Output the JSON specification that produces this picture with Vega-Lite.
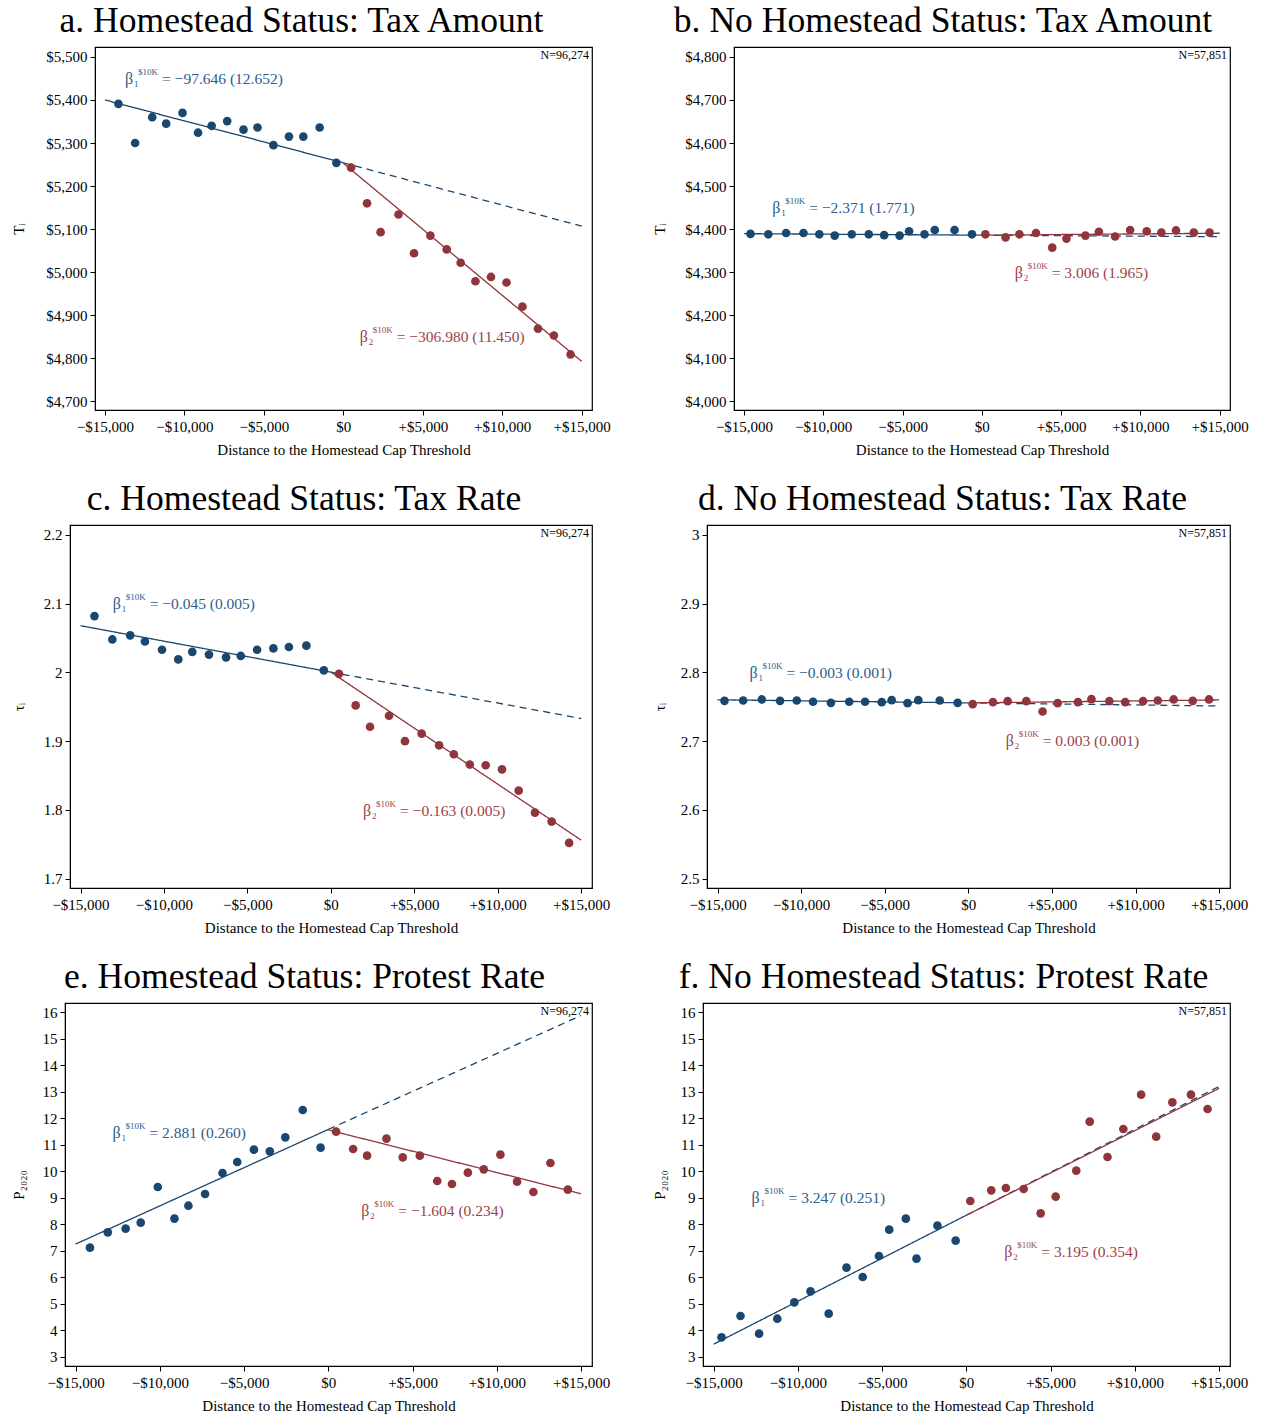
{
"$schema": "https://vega.github.io/schema/vega-lite/v6.json",
"padding": {"left": 0, "right": 0, "top": 3, "bottom": 0},
"background": "white",
"config": {
  "font": "Liberation Serif",
  "view": {"stroke": "black", "strokeWidth": 1.2},
  "title": {"font": "Liberation Serif", "fontSize": 35.6, "fontWeight": "normal", "color": "black", "anchor": "middle", "offset": 7},
  "axis": {"grid": false, "labelFont": "Liberation Serif", "labelFontSize": 15, "labelColor": "black", "titleFont": "Liberation Serif", "titleFontSize": 15, "titleFontWeight": "normal", "titleColor": "black", "tickColor": "black", "domainColor": "black", "tickSize": 5, "labelPadding": 3, "labelFlush": false, "labelOverlap": false},
  "axisX": {"titlePadding": 8, "labelPadding": 4},
  "axisY": {"titlePadding": 4}
},
"datasets": {
  "pts": [
    {"p":"a","s":"L","x":-14156,"y":5391},{"p":"a","s":"L","x":-13105,"y":5300},{"p":"a","s":"L","x":-12029,"y":5360},{"p":"a","s":"L","x":-11149,"y":5345},{"p":"a","s":"L","x":-10122,"y":5370},{"p":"a","s":"L","x":-9144,"y":5324},{"p":"a","s":"L","x":-8289,"y":5340},{"p":"a","s":"L","x":-7311,"y":5351},{"p":"a","s":"L","x":-6284,"y":5331},{"p":"a","s":"L","x":-5403,"y":5336},{"p":"a","s":"L","x":-4401,"y":5295},{"p":"a","s":"L","x":-3423,"y":5315},{"p":"a","s":"L","x":-2518,"y":5315},{"p":"a","s":"L","x":-1491,"y":5336},{"p":"a","s":"L","x":-440,"y":5254},
    {"p":"a","s":"R","x":489,"y":5243},{"p":"a","s":"R","x":1491,"y":5160},{"p":"a","s":"R","x":2347,"y":5093},{"p":"a","s":"R","x":3472,"y":5134},{"p":"a","s":"R","x":4450,"y":5044},{"p":"a","s":"R","x":5477,"y":5085},{"p":"a","s":"R","x":6504,"y":5053},{"p":"a","s":"R","x":7384,"y":5022},{"p":"a","s":"R","x":8313,"y":4979},{"p":"a","s":"R","x":9291,"y":4989},{"p":"a","s":"R","x":10269,"y":4976},{"p":"a","s":"R","x":11271,"y":4920},{"p":"a","s":"R","x":12249,"y":4869},{"p":"a","s":"R","x":13252,"y":4853},{"p":"a","s":"R","x":14303,"y":4809},
    {"p":"b","s":"L","x":-14589,"y":4389},{"p":"b","s":"L","x":-13466,"y":4388},{"p":"b","s":"L","x":-12344,"y":4391},{"p":"b","s":"L","x":-11247,"y":4391},{"p":"b","s":"L","x":-10249,"y":4388},{"p":"b","s":"L","x":-9277,"y":4385},{"p":"b","s":"L","x":-8204,"y":4388},{"p":"b","s":"L","x":-7132,"y":4388},{"p":"b","s":"L","x":-6160,"y":4386},{"p":"b","s":"L","x":-5187,"y":4385},{"p":"b","s":"L","x":-4589,"y":4395},{"p":"b","s":"L","x":-3616,"y":4388},{"p":"b","s":"L","x":-2968,"y":4398},{"p":"b","s":"L","x":-1721,"y":4398},{"p":"b","s":"L","x":-623,"y":4388},
    {"p":"b","s":"R","x":224,"y":4388},{"p":"b","s":"R","x":1496,"y":4381},{"p":"b","s":"R","x":2369,"y":4388},{"p":"b","s":"R","x":3416,"y":4391},{"p":"b","s":"R","x":4439,"y":4357},{"p":"b","s":"R","x":5337,"y":4378},{"p":"b","s":"R","x":6534,"y":4385},{"p":"b","s":"R","x":7382,"y":4394},{"p":"b","s":"R","x":8404,"y":4383},{"p":"b","s":"R","x":9352,"y":4398},{"p":"b","s":"R","x":10399,"y":4395},{"p":"b","s":"R","x":11322,"y":4392},{"p":"b","s":"R","x":12244,"y":4397},{"p":"b","s":"R","x":13367,"y":4392},{"p":"b","s":"R","x":14364,"y":4392},
    {"p":"c","s":"L","x":-14163,"y":2.082},{"p":"c","s":"L","x":-13093,"y":2.048},{"p":"c","s":"L","x":-12023,"y":2.054},{"p":"c","s":"L","x":-11140,"y":2.045},{"p":"c","s":"L","x":-10116,"y":2.033},{"p":"c","s":"L","x":-9140,"y":2.019},{"p":"c","s":"L","x":-8302,"y":2.030},{"p":"c","s":"L","x":-7302,"y":2.026},{"p":"c","s":"L","x":-6279,"y":2.022},{"p":"c","s":"L","x":-5395,"y":2.024},{"p":"c","s":"L","x":-4419,"y":2.033},{"p":"c","s":"L","x":-3442,"y":2.035},{"p":"c","s":"L","x":-2512,"y":2.037},{"p":"c","s":"L","x":-1465,"y":2.039},{"p":"c","s":"L","x":-419,"y":2.003},
    {"p":"c","s":"R","x":488,"y":1.998},{"p":"c","s":"R","x":1488,"y":1.952},{"p":"c","s":"R","x":2349,"y":1.921},{"p":"c","s":"R","x":3488,"y":1.937},{"p":"c","s":"R","x":4442,"y":1.900},{"p":"c","s":"R","x":5442,"y":1.911},{"p":"c","s":"R","x":6488,"y":1.894},{"p":"c","s":"R","x":7372,"y":1.881},{"p":"c","s":"R","x":8326,"y":1.866},{"p":"c","s":"R","x":9279,"y":1.865},{"p":"c","s":"R","x":10256,"y":1.859},{"p":"c","s":"R","x":11256,"y":1.828},{"p":"c","s":"R","x":12233,"y":1.796},{"p":"c","s":"R","x":13233,"y":1.783},{"p":"c","s":"R","x":14279,"y":1.752},
    {"p":"d","s":"L","x":-14584,"y":2.7587},{"p":"d","s":"L","x":-13468,"y":2.7592},{"p":"d","s":"L","x":-12352,"y":2.7607},{"p":"d","s":"L","x":-11259,"y":2.7587},{"p":"d","s":"L","x":-10261,"y":2.7592},{"p":"d","s":"L","x":-9287,"y":2.7573},{"p":"d","s":"L","x":-8219,"y":2.7558},{"p":"d","s":"L","x":-7126,"y":2.7573},{"p":"d","s":"L","x":-6176,"y":2.7573},{"p":"d","s":"L","x":-5178,"y":2.7568},{"p":"d","s":"L","x":-4584,"y":2.7597},{"p":"d","s":"L","x":-3634,"y":2.7553},{"p":"d","s":"L","x":-2993,"y":2.7597},{"p":"d","s":"L","x":-1710,"y":2.7592},{"p":"d","s":"L","x":-641,"y":2.7558},
    {"p":"d","s":"R","x":261,"y":2.7539},{"p":"d","s":"R","x":1473,"y":2.7568},{"p":"d","s":"R","x":2352,"y":2.7582},{"p":"d","s":"R","x":3468,"y":2.7582},{"p":"d","s":"R","x":4442,"y":2.7432},{"p":"d","s":"R","x":5344,"y":2.7553},{"p":"d","s":"R","x":6556,"y":2.7568},{"p":"d","s":"R","x":7363,"y":2.7611},{"p":"d","s":"R","x":8432,"y":2.7582},{"p":"d","s":"R","x":9382,"y":2.7568},{"p":"d","s":"R","x":10451,"y":2.7582},{"p":"d","s":"R","x":11330,"y":2.7592},{"p":"d","s":"R","x":12280,"y":2.7607},{"p":"d","s":"R","x":13420,"y":2.7587},{"p":"d","s":"R","x":14394,"y":2.7607},
    {"p":"e","s":"L","x":-14148,"y":7.115},{"p":"e","s":"L","x":-13090,"y":7.694},{"p":"e","s":"L","x":-12032,"y":7.832},{"p":"e","s":"L","x":-11135,"y":8.059},{"p":"e","s":"L","x":-10123,"y":9.405},{"p":"e","s":"L","x":-9134,"y":8.21},{"p":"e","s":"L","x":-8305,"y":8.70},{"p":"e","s":"L","x":-7316,"y":9.141},{"p":"e","s":"L","x":-6280,"y":9.934},{"p":"e","s":"L","x":-5406,"y":10.349},{"p":"e","s":"L","x":-4417,"y":10.815},{"p":"e","s":"L","x":-3474,"y":10.752},{"p":"e","s":"L","x":-2553,"y":11.281},{"p":"e","s":"L","x":-1518,"y":12.313},{"p":"e","s":"L","x":-460,"y":10.89},
    {"p":"e","s":"R","x":460,"y":11.495},{"p":"e","s":"R","x":1472,"y":10.84},{"p":"e","s":"R","x":2300,"y":10.59},{"p":"e","s":"R","x":3451,"y":11.23},{"p":"e","s":"R","x":4417,"y":10.526},{"p":"e","s":"R","x":5429,"y":10.59},{"p":"e","s":"R","x":6464,"y":9.632},{"p":"e","s":"R","x":7338,"y":9.519},{"p":"e","s":"R","x":8282,"y":9.947},{"p":"e","s":"R","x":9225,"y":10.072},{"p":"e","s":"R","x":10214,"y":10.626},{"p":"e","s":"R","x":11203,"y":9.607},{"p":"e","s":"R","x":12170,"y":9.217},{"p":"e","s":"R","x":13182,"y":10.312},{"p":"e","s":"R","x":14217,"y":9.305},
    {"p":"f","s":"L","x":-14531,"y":3.73},{"p":"f","s":"L","x":-13404,"y":4.535},{"p":"f","s":"L","x":-12300,"y":3.868},{"p":"f","s":"L","x":-11221,"y":4.434},{"p":"f","s":"L","x":-10211,"y":5.051},{"p":"f","s":"L","x":-9249,"y":5.466},{"p":"f","s":"L","x":-8169,"y":4.623},{"p":"f","s":"L","x":-7113,"y":6.36},{"p":"f","s":"L","x":-6150,"y":6.007},{"p":"f","s":"L","x":-5188,"y":6.8},{"p":"f","s":"L","x":-4577,"y":7.795},{"p":"f","s":"L","x":-3592,"y":8.21},{"p":"f","s":"L","x":-2958,"y":6.70},{"p":"f","s":"L","x":-1714,"y":7.946},{"p":"f","s":"L","x":-634,"y":7.379},
    {"p":"f","s":"R","x":235,"y":8.877},{"p":"f","s":"R","x":1479,"y":9.28},{"p":"f","s":"R","x":2347,"y":9.368},{"p":"f","s":"R","x":3404,"y":9.33},{"p":"f","s":"R","x":4413,"y":8.411},{"p":"f","s":"R","x":5305,"y":9.041},{"p":"f","s":"R","x":6526,"y":10.022},{"p":"f","s":"R","x":7324,"y":11.872},{"p":"f","s":"R","x":8380,"y":10.538},{"p":"f","s":"R","x":9319,"y":11.595},{"p":"f","s":"R","x":10376,"y":12.892},{"p":"f","s":"R","x":11268,"y":11.306},{"p":"f","s":"R","x":12230,"y":12.602},{"p":"f","s":"R","x":13333,"y":12.892},{"p":"f","s":"R","x":14319,"y":12.35}
  ],
  "fits": [
    {"p":"a","s":"L","st":"dash","x":0,"y":5254},{"p":"a","s":"L","st":"dash","x":15000,"y":5107},
    {"p":"a","s":"L","st":"solid","x":-15000,"y":5400},{"p":"a","s":"L","st":"solid","x":0,"y":5254},
    {"p":"a","s":"R","st":"solid","x":0,"y":5253},{"p":"a","s":"R","st":"solid","x":15000,"y":4793},
    {"p":"b","s":"L","st":"dash","x":0,"y":4386},{"p":"b","s":"L","st":"dash","x":15000,"y":4382.5},
    {"p":"b","s":"L","st":"solid","x":-15000,"y":4389.5},{"p":"b","s":"L","st":"solid","x":0,"y":4386},
    {"p":"b","s":"R","st":"solid","x":0,"y":4386},{"p":"b","s":"R","st":"solid","x":15000,"y":4390.5},
    {"p":"c","s":"L","st":"dash","x":0,"y":2.0005},{"p":"c","s":"L","st":"dash","x":15000,"y":1.933},
    {"p":"c","s":"L","st":"solid","x":-15000,"y":2.068},{"p":"c","s":"L","st":"solid","x":0,"y":2.0005},
    {"p":"c","s":"R","st":"solid","x":0,"y":2.0005},{"p":"c","s":"R","st":"solid","x":15000,"y":1.756},
    {"p":"d","s":"L","st":"dash","x":0,"y":2.7557},{"p":"d","s":"L","st":"dash","x":15000,"y":2.7512},
    {"p":"d","s":"L","st":"solid","x":-15000,"y":2.7602},{"p":"d","s":"L","st":"solid","x":0,"y":2.7557},
    {"p":"d","s":"R","st":"solid","x":0,"y":2.7557},{"p":"d","s":"R","st":"solid","x":15000,"y":2.7600},
    {"p":"e","s":"L","st":"dash","x":0,"y":11.58},{"p":"e","s":"L","st":"dash","x":15000,"y":15.88},
    {"p":"e","s":"L","st":"solid","x":-15000,"y":7.25},{"p":"e","s":"L","st":"solid","x":0,"y":11.58},
    {"p":"e","s":"R","st":"solid","x":0,"y":11.56},{"p":"e","s":"R","st":"solid","x":15000,"y":9.15},
    {"p":"f","s":"L","st":"dash","x":0,"y":8.34},{"p":"f","s":"L","st":"dash","x":15000,"y":13.2},
    {"p":"f","s":"L","st":"solid","x":-15000,"y":3.47},{"p":"f","s":"L","st":"solid","x":0,"y":8.34},
    {"p":"f","s":"R","st":"solid","x":0,"y":8.34},{"p":"f","s":"R","st":"solid","x":15000,"y":13.13}
  ],
  "ann": [
    {"p":"a","s":"L","x":-13740,"y":5448,"b":"β","sub":"1","sup":"$10K","eq":"= −97.646 (12.652)"},
    {"p":"a","s":"R","x":1030,"y":4850,"b":"β","sub":"2","sup":"$10K","eq":"= −306.980 (11.450)"},
    {"p":"b","s":"L","x":-13217,"y":4449,"b":"β","sub":"1","sup":"$10K","eq":"= −2.371 (1.771)"},
    {"p":"b","s":"R","x":2070,"y":4298,"b":"β","sub":"2","sup":"$10K","eq":"= 3.006 (1.965)"},
    {"p":"c","s":"L","x":-13070,"y":2.1,"b":"β","sub":"1","sup":"$10K","eq":"= −0.045 (0.005)"},
    {"p":"c","s":"R","x":1930,"y":1.798,"b":"β","sub":"2","sup":"$10K","eq":"= −0.163 (0.005)"},
    {"p":"d","s":"L","x":-13088,"y":2.799,"b":"β","sub":"1","sup":"$10K","eq":"= −0.003 (0.001)"},
    {"p":"d","s":"R","x":2233,"y":2.6996,"b":"β","sub":"2","sup":"$10K","eq":"= 0.003 (0.001)"},
    {"p":"e","s":"L","x":-12813,"y":11.457,"b":"β","sub":"1","sup":"$10K","eq":"= 2.881 (0.260)"},
    {"p":"e","s":"R","x":1955,"y":8.5,"b":"β","sub":"2","sup":"$10K","eq":"= −1.604 (0.234)"},
    {"p":"f","s":"L","x":-12746,"y":8.978,"b":"β","sub":"1","sup":"$10K","eq":"= 3.247 (0.251)"},
    {"p":"f","s":"R","x":2254,"y":6.96,"b":"β","sub":"2","sup":"$10K","eq":"= 3.195 (0.354)"}
  ],
  "nlab": [
    {"p":"a","x":15650,"y":5523,"n":"N=96,274"},
    {"p":"b","x":15650,"y":4823,"n":"N=57,851"},
    {"p":"c","x":15650,"y":2.2145,"n":"N=96,274"},
    {"p":"d","x":15650,"y":3.0145,"n":"N=57,851"},
    {"p":"e","x":15650,"y":16.352,"n":"N=96,274"},
    {"p":"f","x":15650,"y":16.352,"n":"N=57,851"}
  ]
},
"columns": 1,
"align": "none",
"spacing": 23,
"concat": [
 {"spacing": 40, "hconcat": [
  {"spacing": 0, "hconcat": [
   {"width": 8, "height": 10, "data": {"values": []}, "mark": "point", "view": {"stroke": "transparent"}},
   {"title": {"text": "a. Homestead Status: Tax Amount", "dx": -42}, "width": 497, "height": 363,
   "encoding": {
    "x": {"field": "x", "type": "quantitative", "scale": {"domain": [-15630, 15650], "nice": false, "zero": false}, "axis": {"title": "Distance to the Homestead Cap Threshold", "values": [-15000,-10000,-5000,0,5000,10000,15000], "labelExpr": "datum.value > 0 ? '+$' + format(datum.value, ',') : (datum.value < 0 ? '−$' + format(-datum.value, ',') : '$0')"}},
    "y": {"field": "y", "type": "quantitative", "scale": {"domain": [4680, 5523], "nice": false, "zero": false}, "axis": {"title": "Tᵢ", "values": [4700,4800,4900,5000,5100,5200,5300,5400,5500], "labelExpr": "'$' + format(datum.value, ',')", "minExtent": 65, "maxExtent": 65}}
   },
   "layer": [
    {"data": {"values": [{}]}, "mark": {"type": "rule", "color": "#222", "strokeWidth": 1}, "encoding": {"x": {"datum": 0}, "y": {"datum": 4680}, "y2": {"datum": 5523}}},
    {"data": {"name": "fits"}, "transform": [{"filter": "datum.p == 'a'"}], "mark": {"type": "line", "strokeWidth": 1.3}, "encoding": {"color": {"field": "s", "scale": {"domain": ["L","R"], "range": ["#1a476f","#90353b"]}, "legend": null}, "strokeDash": {"field": "st", "scale": {"domain": ["solid","dash"], "range": [[1,0],[7,5]]}, "legend": null}}},
    {"data": {"name": "pts"}, "transform": [{"filter": "datum.p == 'a'"}], "mark": {"type": "circle", "size": 75, "opacity": 1}, "encoding": {"color": {"field": "s", "scale": {"domain": ["L","R"], "range": ["#1a476f","#90353b"]}, "legend": null}}},
    {"data": {"name": "ann"}, "transform": [{"filter": "datum.p == 'a'"}], "mark": {"type": "text", "align": "left", "baseline": "middle", "fontSize": 16}, "encoding": {"text": {"field": "b"}, "fill": {"field": "s", "scale": {"domain": ["L","R"], "range": ["#2d5d8a","#9b3f47"]}, "legend": null}}},
    {"data": {"name": "ann"}, "transform": [{"filter": "datum.p == 'a'"}], "mark": {"type": "text", "align": "left", "baseline": "middle", "fontSize": 9, "dx": 9, "dy": 5}, "encoding": {"text": {"field": "sub"}, "fill": {"field": "s", "scale": {"domain": ["L","R"], "range": ["#2d5d8a","#9b3f47"]}, "legend": null}}},
    {"data": {"name": "ann"}, "transform": [{"filter": "datum.p == 'a'"}], "mark": {"type": "text", "align": "left", "baseline": "middle", "fontSize": 9, "dx": 13, "dy": -7}, "encoding": {"text": {"field": "sup"}, "fill": {"field": "s", "scale": {"domain": ["L","R"], "range": ["#2d5d8a","#9b3f47"]}, "legend": null}}},
    {"data": {"name": "ann"}, "transform": [{"filter": "datum.p == 'a'"}], "mark": {"type": "text", "align": "left", "baseline": "middle", "fontSize": 15.5, "dx": 37}, "encoding": {"text": {"field": "eq"}, "fill": {"field": "s", "scale": {"domain": ["L","R"], "range": ["#2d5d8a","#9b3f47"]}, "legend": null}}},
    {"data": {"name": "nlab"}, "transform": [{"filter": "datum.p == 'a'"}], "mark": {"type": "text", "align": "right", "baseline": "top", "fontSize": 12, "dx": -3, "dy": 3, "color": "black"}, "encoding": {"text": {"field": "n"}}}
   ]}]},
  {"title": {"text": "b. No Homestead Status: Tax Amount", "dx": -39}, "width": 496, "height": 363,
   "encoding": {
    "x": {"field": "x", "type": "quantitative", "scale": {"domain": [-15630, 15650], "nice": false, "zero": false}, "axis": {"title": "Distance to the Homestead Cap Threshold", "values": [-15000,-10000,-5000,0,5000,10000,15000], "labelExpr": "datum.value > 0 ? '+$' + format(datum.value, ',') : (datum.value < 0 ? '−$' + format(-datum.value, ',') : '$0')"}},
    "y": {"field": "y", "type": "quantitative", "scale": {"domain": [3980, 4823], "nice": false, "zero": false}, "axis": {"title": "Tᵢ", "values": [4000,4100,4200,4300,4400,4500,4600,4700,4800], "labelExpr": "'$' + format(datum.value, ',')", "minExtent": 63, "maxExtent": 63}}
   },
   "layer": [
    {"data": {"values": [{}]}, "mark": {"type": "rule", "color": "#222", "strokeWidth": 1}, "encoding": {"x": {"datum": 0}, "y": {"datum": 3980}, "y2": {"datum": 4823}}},
    {"data": {"name": "fits"}, "transform": [{"filter": "datum.p == 'b'"}], "mark": {"type": "line", "strokeWidth": 1.3}, "encoding": {"color": {"field": "s", "scale": {"domain": ["L","R"], "range": ["#1a476f","#90353b"]}, "legend": null}, "strokeDash": {"field": "st", "scale": {"domain": ["solid","dash"], "range": [[1,0],[7,5]]}, "legend": null}}},
    {"data": {"name": "pts"}, "transform": [{"filter": "datum.p == 'b'"}], "mark": {"type": "circle", "size": 75, "opacity": 1}, "encoding": {"color": {"field": "s", "scale": {"domain": ["L","R"], "range": ["#1a476f","#90353b"]}, "legend": null}}},
    {"data": {"name": "ann"}, "transform": [{"filter": "datum.p == 'b'"}], "mark": {"type": "text", "align": "left", "baseline": "middle", "fontSize": 16}, "encoding": {"text": {"field": "b"}, "fill": {"field": "s", "scale": {"domain": ["L","R"], "range": ["#2d5d8a","#9b3f47"]}, "legend": null}}},
    {"data": {"name": "ann"}, "transform": [{"filter": "datum.p == 'b'"}], "mark": {"type": "text", "align": "left", "baseline": "middle", "fontSize": 9, "dx": 9, "dy": 5}, "encoding": {"text": {"field": "sub"}, "fill": {"field": "s", "scale": {"domain": ["L","R"], "range": ["#2d5d8a","#9b3f47"]}, "legend": null}}},
    {"data": {"name": "ann"}, "transform": [{"filter": "datum.p == 'b'"}], "mark": {"type": "text", "align": "left", "baseline": "middle", "fontSize": 9, "dx": 13, "dy": -7}, "encoding": {"text": {"field": "sup"}, "fill": {"field": "s", "scale": {"domain": ["L","R"], "range": ["#2d5d8a","#9b3f47"]}, "legend": null}}},
    {"data": {"name": "ann"}, "transform": [{"filter": "datum.p == 'b'"}], "mark": {"type": "text", "align": "left", "baseline": "middle", "fontSize": 15.5, "dx": 37}, "encoding": {"text": {"field": "eq"}, "fill": {"field": "s", "scale": {"domain": ["L","R"], "range": ["#2d5d8a","#9b3f47"]}, "legend": null}}},
    {"data": {"name": "nlab"}, "transform": [{"filter": "datum.p == 'b'"}], "mark": {"type": "text", "align": "right", "baseline": "top", "fontSize": 12, "dx": -3, "dy": 3, "color": "black"}, "encoding": {"text": {"field": "n"}}}
   ]}
 ]},
 {"spacing": 40, "hconcat": [
  {"spacing": 0, "hconcat": [
   {"width": 8, "height": 10, "data": {"values": []}, "mark": "point", "view": {"stroke": "transparent"}},
   {"title": {"text": "c. Homestead Status: Tax Rate", "dx": -27}, "width": 522, "height": 363,
   "encoding": {
    "x": {"field": "x", "type": "quantitative", "scale": {"domain": [-15630, 15650], "nice": false, "zero": false}, "axis": {"title": "Distance to the Homestead Cap Threshold", "values": [-15000,-10000,-5000,0,5000,10000,15000], "labelExpr": "datum.value > 0 ? '+$' + format(datum.value, ',') : (datum.value < 0 ? '−$' + format(-datum.value, ',') : '$0')"}},
    "y": {"field": "y", "type": "quantitative", "scale": {"domain": [1.6864, 2.2145], "nice": false, "zero": false}, "axis": {"title": "τᵢ", "values": [1.7,1.8,1.9,2.0,2.1,2.2], "format": ".1~f", "minExtent": 40, "maxExtent": 40}}
   },
   "layer": [
    {"data": {"values": [{}]}, "mark": {"type": "rule", "color": "#222", "strokeWidth": 1}, "encoding": {"x": {"datum": 0}, "y": {"datum": 1.6864}, "y2": {"datum": 2.2145}}},
    {"data": {"name": "fits"}, "transform": [{"filter": "datum.p == 'c'"}], "mark": {"type": "line", "strokeWidth": 1.3}, "encoding": {"color": {"field": "s", "scale": {"domain": ["L","R"], "range": ["#1a476f","#90353b"]}, "legend": null}, "strokeDash": {"field": "st", "scale": {"domain": ["solid","dash"], "range": [[1,0],[7,5]]}, "legend": null}}},
    {"data": {"name": "pts"}, "transform": [{"filter": "datum.p == 'c'"}], "mark": {"type": "circle", "size": 75, "opacity": 1}, "encoding": {"color": {"field": "s", "scale": {"domain": ["L","R"], "range": ["#1a476f","#90353b"]}, "legend": null}}},
    {"data": {"name": "ann"}, "transform": [{"filter": "datum.p == 'c'"}], "mark": {"type": "text", "align": "left", "baseline": "middle", "fontSize": 16}, "encoding": {"text": {"field": "b"}, "fill": {"field": "s", "scale": {"domain": ["L","R"], "range": ["#2d5d8a","#9b3f47"]}, "legend": null}}},
    {"data": {"name": "ann"}, "transform": [{"filter": "datum.p == 'c'"}], "mark": {"type": "text", "align": "left", "baseline": "middle", "fontSize": 9, "dx": 9, "dy": 5}, "encoding": {"text": {"field": "sub"}, "fill": {"field": "s", "scale": {"domain": ["L","R"], "range": ["#2d5d8a","#9b3f47"]}, "legend": null}}},
    {"data": {"name": "ann"}, "transform": [{"filter": "datum.p == 'c'"}], "mark": {"type": "text", "align": "left", "baseline": "middle", "fontSize": 9, "dx": 13, "dy": -7}, "encoding": {"text": {"field": "sup"}, "fill": {"field": "s", "scale": {"domain": ["L","R"], "range": ["#2d5d8a","#9b3f47"]}, "legend": null}}},
    {"data": {"name": "ann"}, "transform": [{"filter": "datum.p == 'c'"}], "mark": {"type": "text", "align": "left", "baseline": "middle", "fontSize": 15.5, "dx": 37}, "encoding": {"text": {"field": "eq"}, "fill": {"field": "s", "scale": {"domain": ["L","R"], "range": ["#2d5d8a","#9b3f47"]}, "legend": null}}},
    {"data": {"name": "nlab"}, "transform": [{"filter": "datum.p == 'c'"}], "mark": {"type": "text", "align": "right", "baseline": "top", "fontSize": 12, "dx": -3, "dy": 3, "color": "black"}, "encoding": {"text": {"field": "n"}}}
   ]}]},
  {"title": {"text": "d. No Homestead Status: Tax Rate", "dx": -26}, "width": 523, "height": 363,
   "encoding": {
    "x": {"field": "x", "type": "quantitative", "scale": {"domain": [-15630, 15650], "nice": false, "zero": false}, "axis": {"title": "Distance to the Homestead Cap Threshold", "values": [-15000,-10000,-5000,0,5000,10000,15000], "labelExpr": "datum.value > 0 ? '+$' + format(datum.value, ',') : (datum.value < 0 ? '−$' + format(-datum.value, ',') : '$0')"}},
    "y": {"field": "y", "type": "quantitative", "scale": {"domain": [2.4864, 3.0145], "nice": false, "zero": false}, "axis": {"title": "τᵢ", "values": [2.5,2.6,2.7,2.8,2.9,3.0], "format": ".1~f", "minExtent": 36, "maxExtent": 36}}
   },
   "layer": [
    {"data": {"values": [{}]}, "mark": {"type": "rule", "color": "#222", "strokeWidth": 1}, "encoding": {"x": {"datum": 0}, "y": {"datum": 2.4864}, "y2": {"datum": 3.0145}}},
    {"data": {"name": "fits"}, "transform": [{"filter": "datum.p == 'd'"}], "mark": {"type": "line", "strokeWidth": 1.3}, "encoding": {"color": {"field": "s", "scale": {"domain": ["L","R"], "range": ["#1a476f","#90353b"]}, "legend": null}, "strokeDash": {"field": "st", "scale": {"domain": ["solid","dash"], "range": [[1,0],[7,5]]}, "legend": null}}},
    {"data": {"name": "pts"}, "transform": [{"filter": "datum.p == 'd'"}], "mark": {"type": "circle", "size": 75, "opacity": 1}, "encoding": {"color": {"field": "s", "scale": {"domain": ["L","R"], "range": ["#1a476f","#90353b"]}, "legend": null}}},
    {"data": {"name": "ann"}, "transform": [{"filter": "datum.p == 'd'"}], "mark": {"type": "text", "align": "left", "baseline": "middle", "fontSize": 16}, "encoding": {"text": {"field": "b"}, "fill": {"field": "s", "scale": {"domain": ["L","R"], "range": ["#2d5d8a","#9b3f47"]}, "legend": null}}},
    {"data": {"name": "ann"}, "transform": [{"filter": "datum.p == 'd'"}], "mark": {"type": "text", "align": "left", "baseline": "middle", "fontSize": 9, "dx": 9, "dy": 5}, "encoding": {"text": {"field": "sub"}, "fill": {"field": "s", "scale": {"domain": ["L","R"], "range": ["#2d5d8a","#9b3f47"]}, "legend": null}}},
    {"data": {"name": "ann"}, "transform": [{"filter": "datum.p == 'd'"}], "mark": {"type": "text", "align": "left", "baseline": "middle", "fontSize": 9, "dx": 13, "dy": -7}, "encoding": {"text": {"field": "sup"}, "fill": {"field": "s", "scale": {"domain": ["L","R"], "range": ["#2d5d8a","#9b3f47"]}, "legend": null}}},
    {"data": {"name": "ann"}, "transform": [{"filter": "datum.p == 'd'"}], "mark": {"type": "text", "align": "left", "baseline": "middle", "fontSize": 15.5, "dx": 37}, "encoding": {"text": {"field": "eq"}, "fill": {"field": "s", "scale": {"domain": ["L","R"], "range": ["#2d5d8a","#9b3f47"]}, "legend": null}}},
    {"data": {"name": "nlab"}, "transform": [{"filter": "datum.p == 'd'"}], "mark": {"type": "text", "align": "right", "baseline": "top", "fontSize": 12, "dx": -3, "dy": 3, "color": "black"}, "encoding": {"text": {"field": "n"}}}
   ]}
 ]},
 {"spacing": 40, "hconcat": [
  {"spacing": 0, "hconcat": [
   {"width": 8, "height": 10, "data": {"values": []}, "mark": "point", "view": {"stroke": "transparent"}},
   {"title": {"text": "e. Homestead Status: Protest Rate", "dx": -24}, "width": 527, "height": 363,
   "encoding": {
    "x": {"field": "x", "type": "quantitative", "scale": {"domain": [-15630, 15650], "nice": false, "zero": false}, "axis": {"title": "Distance to the Homestead Cap Threshold", "values": [-15000,-10000,-5000,0,5000,10000,15000], "labelExpr": "datum.value > 0 ? '+$' + format(datum.value, ',') : (datum.value < 0 ? '−$' + format(-datum.value, ',') : '$0')"}},
    "y": {"field": "y", "type": "quantitative", "scale": {"domain": [2.648, 16.352], "nice": false, "zero": false}, "axis": {"title": "P₂₀₂₀", "values": [3,4,5,6,7,8,9,10,11,12,13,14,15,16], "format": "d", "minExtent": 35, "maxExtent": 35}}
   },
   "layer": [
    {"data": {"values": [{}]}, "mark": {"type": "rule", "color": "#222", "strokeWidth": 1}, "encoding": {"x": {"datum": 0}, "y": {"datum": 2.648}, "y2": {"datum": 16.352}}},
    {"data": {"name": "fits"}, "transform": [{"filter": "datum.p == 'e'"}], "mark": {"type": "line", "strokeWidth": 1.3}, "encoding": {"color": {"field": "s", "scale": {"domain": ["L","R"], "range": ["#1a476f","#90353b"]}, "legend": null}, "strokeDash": {"field": "st", "scale": {"domain": ["solid","dash"], "range": [[1,0],[7,5]]}, "legend": null}}},
    {"data": {"name": "pts"}, "transform": [{"filter": "datum.p == 'e'"}], "mark": {"type": "circle", "size": 75, "opacity": 1}, "encoding": {"color": {"field": "s", "scale": {"domain": ["L","R"], "range": ["#1a476f","#90353b"]}, "legend": null}}},
    {"data": {"name": "ann"}, "transform": [{"filter": "datum.p == 'e'"}], "mark": {"type": "text", "align": "left", "baseline": "middle", "fontSize": 16}, "encoding": {"text": {"field": "b"}, "fill": {"field": "s", "scale": {"domain": ["L","R"], "range": ["#2d5d8a","#9b3f47"]}, "legend": null}}},
    {"data": {"name": "ann"}, "transform": [{"filter": "datum.p == 'e'"}], "mark": {"type": "text", "align": "left", "baseline": "middle", "fontSize": 9, "dx": 9, "dy": 5}, "encoding": {"text": {"field": "sub"}, "fill": {"field": "s", "scale": {"domain": ["L","R"], "range": ["#2d5d8a","#9b3f47"]}, "legend": null}}},
    {"data": {"name": "ann"}, "transform": [{"filter": "datum.p == 'e'"}], "mark": {"type": "text", "align": "left", "baseline": "middle", "fontSize": 9, "dx": 13, "dy": -7}, "encoding": {"text": {"field": "sup"}, "fill": {"field": "s", "scale": {"domain": ["L","R"], "range": ["#2d5d8a","#9b3f47"]}, "legend": null}}},
    {"data": {"name": "ann"}, "transform": [{"filter": "datum.p == 'e'"}], "mark": {"type": "text", "align": "left", "baseline": "middle", "fontSize": 15.5, "dx": 37}, "encoding": {"text": {"field": "eq"}, "fill": {"field": "s", "scale": {"domain": ["L","R"], "range": ["#2d5d8a","#9b3f47"]}, "legend": null}}},
    {"data": {"name": "nlab"}, "transform": [{"filter": "datum.p == 'e'"}], "mark": {"type": "text", "align": "right", "baseline": "top", "fontSize": 12, "dx": -3, "dy": 3, "color": "black"}, "encoding": {"text": {"field": "n"}}}
   ]}]},
  {"title": {"text": "f. No Homestead Status: Protest Rate", "dx": -23}, "width": 527, "height": 363,
   "encoding": {
    "x": {"field": "x", "type": "quantitative", "scale": {"domain": [-15630, 15650], "nice": false, "zero": false}, "axis": {"title": "Distance to the Homestead Cap Threshold", "values": [-15000,-10000,-5000,0,5000,10000,15000], "labelExpr": "datum.value > 0 ? '+$' + format(datum.value, ',') : (datum.value < 0 ? '−$' + format(-datum.value, ',') : '$0')"}},
    "y": {"field": "y", "type": "quantitative", "scale": {"domain": [2.648, 16.352], "nice": false, "zero": false}, "axis": {"title": "P₂₀₂₀", "values": [3,4,5,6,7,8,9,10,11,12,13,14,15,16], "format": "d", "minExtent": 32, "maxExtent": 32}}
   },
   "layer": [
    {"data": {"values": [{}]}, "mark": {"type": "rule", "color": "#222", "strokeWidth": 1}, "encoding": {"x": {"datum": 0}, "y": {"datum": 2.648}, "y2": {"datum": 16.352}}},
    {"data": {"name": "fits"}, "transform": [{"filter": "datum.p == 'f'"}], "mark": {"type": "line", "strokeWidth": 1.3}, "encoding": {"color": {"field": "s", "scale": {"domain": ["L","R"], "range": ["#1a476f","#90353b"]}, "legend": null}, "strokeDash": {"field": "st", "scale": {"domain": ["solid","dash"], "range": [[1,0],[7,5]]}, "legend": null}}},
    {"data": {"name": "pts"}, "transform": [{"filter": "datum.p == 'f'"}], "mark": {"type": "circle", "size": 75, "opacity": 1}, "encoding": {"color": {"field": "s", "scale": {"domain": ["L","R"], "range": ["#1a476f","#90353b"]}, "legend": null}}},
    {"data": {"name": "ann"}, "transform": [{"filter": "datum.p == 'f'"}], "mark": {"type": "text", "align": "left", "baseline": "middle", "fontSize": 16}, "encoding": {"text": {"field": "b"}, "fill": {"field": "s", "scale": {"domain": ["L","R"], "range": ["#2d5d8a","#9b3f47"]}, "legend": null}}},
    {"data": {"name": "ann"}, "transform": [{"filter": "datum.p == 'f'"}], "mark": {"type": "text", "align": "left", "baseline": "middle", "fontSize": 9, "dx": 9, "dy": 5}, "encoding": {"text": {"field": "sub"}, "fill": {"field": "s", "scale": {"domain": ["L","R"], "range": ["#2d5d8a","#9b3f47"]}, "legend": null}}},
    {"data": {"name": "ann"}, "transform": [{"filter": "datum.p == 'f'"}], "mark": {"type": "text", "align": "left", "baseline": "middle", "fontSize": 9, "dx": 13, "dy": -7}, "encoding": {"text": {"field": "sup"}, "fill": {"field": "s", "scale": {"domain": ["L","R"], "range": ["#2d5d8a","#9b3f47"]}, "legend": null}}},
    {"data": {"name": "ann"}, "transform": [{"filter": "datum.p == 'f'"}], "mark": {"type": "text", "align": "left", "baseline": "middle", "fontSize": 15.5, "dx": 37}, "encoding": {"text": {"field": "eq"}, "fill": {"field": "s", "scale": {"domain": ["L","R"], "range": ["#2d5d8a","#9b3f47"]}, "legend": null}}},
    {"data": {"name": "nlab"}, "transform": [{"filter": "datum.p == 'f'"}], "mark": {"type": "text", "align": "right", "baseline": "top", "fontSize": 12, "dx": -3, "dy": 3, "color": "black"}, "encoding": {"text": {"field": "n"}}}
   ]}
 ]}
]
}
